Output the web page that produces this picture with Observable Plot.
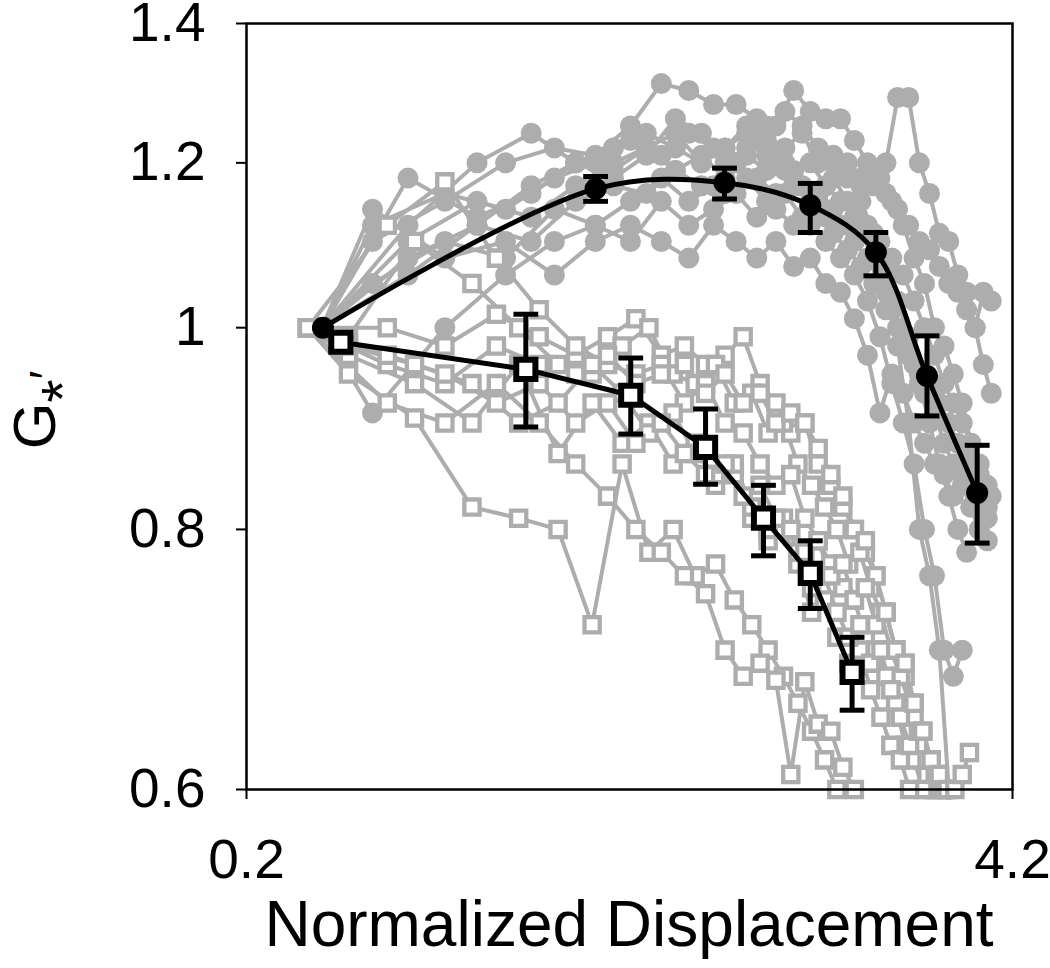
<!DOCTYPE html>
<html><head><meta charset="utf-8">
<script src="https://cdn.jsdelivr.net/npm/d3@7"></script>
<script src="https://cdn.jsdelivr.net/npm/@observablehq/plot@0.6"></script>
<style>body{margin:0;background:#fff;} #chart svg{display:block;}</style>
</head><body><div id="chart"></div>
<script>
// ---- axis ticks ----
const xTicks = [0.2, 4.2];
const yTicks = [0.6, 0.8, 1, 1.2, 1.4];

// ---- individual specimens, filled circles (displacement grids + G' values) ----
const cGridA = [0.27,0.38,0.5,0.62,0.74,0.86,0.98,1.1,1.22,1.34,1.46,1.58,1.7,1.82,1.94,2.06,2.18,2.3,2.42,2.54,2.66,2.78,2.9,3.02,3.14,3.26,3.38,3.5,3.62,3.74,3.86];
const cGridB = [0.27,0.33,0.44,0.56,0.68,0.8,0.92,1.04,1.16,1.28,1.4,1.52,1.64,1.76,1.88,2.0,2.12,2.24,2.36,2.48,2.6,2.72,2.84,2.96,3.08,3.2,3.32,3.44,3.56,3.68,3.8];
const c1 = [1.0,1.1,1.15,1.13,1.17,1.2,1.22,1.19,1.21,1.18,1.21,1.19,1.2,1.17,1.16,1.18,1.15,1.17,1.18,1.2,1.29,1.29,1.2,1.16,1.11,1.1,1.06,1.04,1.0,0.96,0.93];
const c2 = [1.0,1.1,1.15,1.2,1.22,1.21,1.25,1.31,1.3,1.28,1.28,1.26,1.25,1.3,1.27,1.26,1.26,1.23,1.2,1.18,1.15,1.12,1.08,1.05,1.0,0.98,0.95,0.92,0.88,0.85,0.82];
const c3 = [1.0,1.08,1.12,1.17,1.2,1.22,1.24,1.22,1.2,1.22,1.24,1.21,1.19,1.17,1.15,1.14,1.12,1.11,1.08,1.04,0.98,0.9,0.8,0.76,0.7,0.6];
const c4 = [1.0,0.91,1.0,1.06,1.1,1.12,1.1,1.15,1.12,1.14,1.16,1.13,1.14,1.12,1.12,1.1,1.08,1.06,1.03,0.99,0.94,0.9,0.86,0.8,0.76,0.7,0.68,0.7];
const c5 = [1.0,1.18,1.13,1.16,1.2,1.19,1.22,1.24,1.2,1.22,1.25,1.23,1.22,1.24,1.2,1.21,1.2,1.18,1.17,1.16,1.14,1.12,1.1,1.09,1.07,1.05,1.04,1.02,1.0,1.04,1.03];
const c6 = [1.0,1.05,1.1,1.08,1.14,1.12,1.15,1.18,1.15,1.17,1.2,1.18,1.16,1.17,1.15,1.13,1.12,1.1,1.08,1.05,1.02,0.99,0.96,0.93,0.91,0.88,0.86,0.84,0.82,0.8,0.79];
const c7 = [1.0,1.12,1.2,1.24,1.2,1.18,1.21,1.26,1.24,1.2,1.22,1.25,1.27,1.25,1.22,1.2,1.18,1.15,1.11,1.07,1.03,0.99,0.94,0.9,0.86,0.83,0.8,0.78];
const c8 = [1.0,1.14,1.08,1.1,1.06,1.1,1.12,1.1,1.08,1.12,1.1,1.08,1.1,1.07,1.08,1.05,1.04,1.01,0.97,0.91,0.95,0.93,0.9,0.88,0.86,0.85,0.83,0.85,0.82,0.8,0.81];
const c9 = [1.0,1.06,1.12,1.1,1.15,1.17,1.16,1.19,1.17,1.16,1.18,1.15,1.16,1.13,1.14,1.11,1.09,1.07,1.05,1.02,1.0,0.97,0.95,0.93,0.92,0.9,0.88,0.87,0.86,0.84,0.83];
const c10 = [1.0,1.12,1.16,1.14,1.18,1.2,1.23,1.21,1.24,1.22,1.2,1.23,1.21,1.19,1.2,1.17,1.15,1.13,1.12,1.1,1.08,1.06,1.03,1.0,0.97,0.94,0.92,0.9,0.88,0.86,0.84];

// ---- individual specimens, open squares ----
const sGridA = [0.255,0.35,0.44,0.54,0.64,0.74,0.84,0.94,1.04,1.14,1.24,1.34,1.44,1.54,1.64,1.74,1.84,1.94,2.04,2.14,2.24,2.34,2.44,2.54,2.64,2.74,2.84,2.94,3.04,3.14,3.24,3.34,3.44,3.54];
const sGridB = [0.255,0.3,0.39,0.49,0.59,0.69,0.79,0.89,0.99,1.09,1.19,1.29,1.39,1.49,1.59,1.69,1.79,1.89,1.99,2.09,2.19,2.29,2.39,2.49,2.59,2.69,2.79,2.89,2.99,3.09,3.19,3.29,3.39,3.49];
const s1 = [1.0,1.0,0.98,1.015,0.99,0.97,0.99,1.01,0.97,0.98,0.96,0.97,0.99,0.94,0.92,0.89,0.9,0.86,0.84,0.82,0.8,0.78,0.76,0.73,0.7,0.68,0.65,0.62,0.6];
const s2 = [1.0,0.99,1.1,1.05,1.0,0.96,0.95,0.98,1.0,0.95,0.94,0.96,0.92,0.93,0.89,0.9,0.86,0.84,0.82,0.8,0.77,0.78,0.75,0.73,0.7,0.68,0.66,0.63,0.61,0.6];
const s3 = [1.0,1.12,1.175,1.08,1.02,0.98,0.96,0.95,0.96,0.92,0.94,0.9,0.89,0.86,0.84,0.85,0.81,0.79,0.77,0.75,0.74,0.71,0.7,0.68,0.66,0.63,0.62,0.6];
const s4 = [1.0,0.95,0.905,0.82,0.81,0.8,0.72,0.86,0.78,0.8,0.76,0.77,0.74,0.72,0.7,0.68,0.66,0.64,0.62,0.6];
const s5 = [1.0,0.92,0.9,0.94,0.9,0.86,0.83,0.8,0.78,0.76,0.745,0.7,0.68,0.69,0.677,0.61,0.676,0.645,0.64,0.615,0.6];
const s6 = [1.0,0.97,0.94,0.9,0.96,0.87,0.92,0.88,0.9,0.86,0.88,0.84,0.85,0.81,0.79,0.8,0.77,0.73,0.74,0.71,0.69,0.7,0.67,0.65,0.63,0.62,0.6];
const s7 = [1.0,0.96,0.94,0.98,0.96,0.95,0.97,0.94,0.95,0.96,0.93,0.95,0.92,0.93,0.9,0.91,0.9,0.875,0.85,0.83,0.8,0.79,0.76,0.73,0.7,0.69,0.66,0.64,0.62,0.6];
const s8 = [1.0,0.98,0.96,0.94,0.9,0.92,0.96,0.93,0.89,0.91,0.87,0.85,0.86,0.82,0.8,0.81,0.78,0.75,0.76,0.73,0.71,0.72,0.69,0.7,0.67,0.65,0.63,0.64,0.62,0.61,0.6];
const s9 = [1.0,0.97,0.95,0.92,0.94,0.9,0.92,0.88,0.9,0.87,0.85,0.86,0.83,0.84,0.81,0.8,0.78,0.79,0.76,0.77,0.74,0.75,0.72,0.73,0.7,0.69,0.66,0.64,0.62,0.61,0.6,0.6,0.61,0.625];

// ---- means with error bars ----
const meanCX  = [0.271, 0.801, 1.337, 1.88, 2.44, 2.99, 3.65];
const meanCY  = [1.0, 1.166, 1.174, 1.145, 1.087, 0.948, 0.833];
const meanCLo = [1.0, 1.150, 1.153, 1.111, 1.059, 0.907, 0.788];
const meanCHi = [1.0, 1.182, 1.193, 1.173, 1.111, 0.991, 0.878];
const meanSX  = [0.291, 0.607, 0.921, 1.24, 1.561, 1.88, 2.22];
const meanSY  = [0.984, 0.955, 0.928, 0.876, 0.810, 0.762, 0.683];
const meanSLo = [0.976, 0.896, 0.889, 0.841, 0.777, 0.733, 0.655];
const meanSHi = [0.992, 1.015, 0.967, 0.914, 0.840, 0.790, 0.710];

// ---- build tables ----
const circleSeries = [[cGridA,c1],[cGridB,c2],[cGridA,c3],[cGridB,c4],[cGridA,c5],[cGridB,c6],[cGridA,c7],[cGridB,c8],[cGridA,c9],[cGridB,c10]];
const squareSeries = [[sGridA,s1],[sGridB,s2],[sGridA,s3],[sGridB,s4],[sGridA,s5],[sGridB,s6],[sGridA,s7],[sGridB,s8],[sGridA,s9]];
const circleRows = [], squareRows = [];
circleSeries.forEach(([g, v], i) => v.forEach((y, j) => circleRows.push({s: i, x: g[j], y})));
squareSeries.forEach(([g, v], i) => v.forEach((y, j) => squareRows.push({s: i, x: g[j], y})));
const meanC = meanCX.map((x, i) => ({x, y: meanCY[i], lo: meanCLo[i], hi: meanCHi[i]}));
const meanS = meanSX.map((x, i) => ({x, y: meanSY[i], lo: meanSLo[i], hi: meanSHi[i]}));
const meanCErr = meanC.slice(1);

const gray = "#adadad";
const cap = {draw(ctx, size) { const w = Math.sqrt(size); ctx.moveTo(-w, 0); ctx.lineTo(w, 0); }};
const FONT = "'Liberation Sans', Arial, sans-serif";

const chart = Plot.plot({
  width: 1050, height: 968,
  marginLeft: 246, marginRight: 38, marginTop: 23, marginBottom: 179,
  style: {fontFamily: FONT, background: "#fff", color: "#000"},
  x: {type: "log", domain: [0.2, 4.2], ticks: xTicks, tickFormat: d => String(d)},
  y: {type: "log", domain: [0.6, 1.4], ticks: yTicks, tickFormat: d => String(d)},
  marks: [
    Plot.line(circleRows, {x: "x", y: "y", z: "s", stroke: gray, strokeWidth: 4}),
    Plot.dot(circleRows, {x: "x", y: "y", r: 10.5, fill: gray, stroke: "none"}),
    Plot.line(squareRows, {x: "x", y: "y", z: "s", stroke: gray, strokeWidth: 4}),
    Plot.dot(squareRows, {x: "x", y: "y", symbol: "square", r: 8.6, fill: "white", stroke: gray, strokeWidth: 4.3}),
    Plot.ruleX(meanCErr, {x: "x", y1: "lo", y2: "hi", stroke: "black", strokeWidth: 5}),
    Plot.dot(meanCErr, {x: "x", y: "lo", symbol: cap, r: 7, fill: "none", stroke: "black", strokeWidth: 5}),
    Plot.dot(meanCErr, {x: "x", y: "hi", symbol: cap, r: 7, fill: "none", stroke: "black", strokeWidth: 5}),
    Plot.line(meanC, {x: "x", y: "y", stroke: "black", strokeWidth: 5, curve: "catmull-rom"}),
    Plot.dot(meanC, {x: "x", y: "y", r: 11, fill: "black", stroke: "none"}),
    Plot.ruleX(meanS, {x: "x", y1: "lo", y2: "hi", stroke: "black", strokeWidth: 5}),
    Plot.dot(meanS, {x: "x", y: "lo", symbol: cap, r: 7, fill: "none", stroke: "black", strokeWidth: 5}),
    Plot.dot(meanS, {x: "x", y: "hi", symbol: cap, r: 7, fill: "none", stroke: "black", strokeWidth: 5}),
    Plot.line(meanS, {x: "x", y: "y", stroke: "black", strokeWidth: 5}),
    Plot.dot(meanS, {x: "x", y: "y", symbol: "square", r: 10.8, fill: "white", stroke: "black", strokeWidth: 6}),
    Plot.frame({stroke: "black", strokeWidth: 2.5}),
    Plot.axisX({ticks: xTicks, tickSize: 10, tickPadding: 39, fontSize: 55, tickFormat: d => String(d), label: null, stroke: "black", strokeWidth: 2}),
    Plot.axisY({ticks: yTicks, tickSize: 10, tickPadding: 31, fontSize: 55, tickFormat: d => String(d), label: null, stroke: "black", strokeWidth: 2})
  ]
});
document.getElementById("chart").appendChild(chart);

const svg = d3.select(chart);
svg.append("text")
  .attr("x", 629).attr("y", 946)
  .attr("text-anchor", "middle")
  .style("font-family", FONT).style("font-size", "64px").attr("fill", "black")
  .text("Normalized Displacement");
const yl = svg.append("text")
  .attr("transform", "translate(55,410) rotate(-90)")
  .attr("text-anchor", "middle")
  .style("font-family", FONT).style("font-size", "60px").attr("fill", "black");
yl.append("tspan").text("G");
yl.append("tspan").attr("dy", "0.47em").text("*");
yl.append("tspan").attr("dy", "-0.47em").style("font-size", "46px").text("′");
</script>
</body></html>
